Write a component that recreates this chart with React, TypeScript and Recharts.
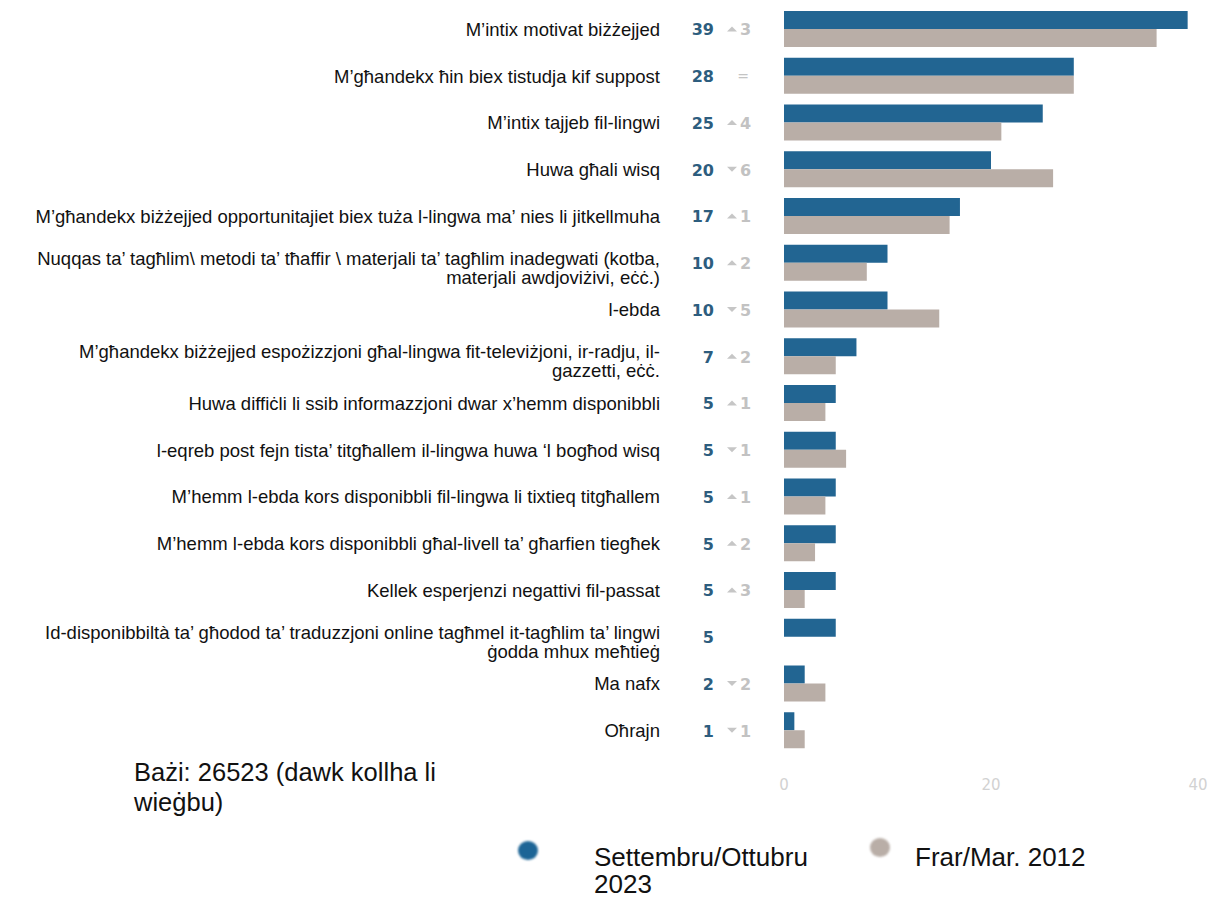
import React from "react";
import { BarChart, Bar, XAxis, YAxis } from "recharts";

// reasons for not learning a language, % of respondents
const categories = [
  "M’intix motivat biżżejjed",
  "M’għandekx ħin biex tistudja kif suppost",
  "M’intix tajjeb fil-lingwi",
  "Huwa għali wisq",
  "M’għandekx biżżejjed opportunitajiet biex tuża l-lingwa ma’ nies li jitkellmuha",
  "Nuqqas ta’ tagħlim\\ metodi ta’ tħaffir \\ materjali ta’ tagħlim inadegwati (kotba,\nmaterjali awdjoviżivi, eċċ.)",
  "l-ebda",
  "M’għandekx biżżejjed espożizzjoni għal-lingwa fit-televiżjoni, ir-radju, il-\ngazzetti, eċċ.",
  "Huwa diffiċli li ssib informazzjoni dwar x’hemm disponibbli",
  "l-eqreb post fejn tista’ titgħallem il-lingwa huwa ‘l bogħod wisq",
  "M’hemm l-ebda kors disponibbli fil-lingwa li tixtieq titgħallem",
  "M’hemm l-ebda kors disponibbli għal-livell ta’ għarfien tiegħek",
  "Kellek esperjenzi negattivi fil-passat",
  "Id-disponibbiltà ta’ għodod ta’ traduzzjoni online tagħmel it-tagħlim ta’ lingwi\nġodda mhux meħtieġ",
  "Ma nafx",
  "Oħrajn",
];

const sepOct2023 = [39, 28, 25, 20, 17, 10, 10, 7, 5, 5, 5, 5, 5, 5, 2, 1];
const febMar2012: (number | null)[] = [36, 28, 21, 26, 16, 8, 15, 5, 4, 6, 4, 3, 2, null, 4, 2];

const xTicks = [0, 20, 40];

const BLUE = "#226592";
const GREY = "#b9aea7";

const data = categories.map((name, i) => ({
  name,
  cur: sepOct2023[i],
  prev: febMar2012[i],
}));

const LABEL_RIGHT = 660;
const VALUE_RIGHT = 714;
const DELTA_X = 727;
const ARIAL = "'Liberation Sans', Arial, sans-serif";

function RowTick(props: any) {
  const { y, payload } = props;
  const i = payload.index;
  const lines = String(categories[i]).split("\n");
  const cur = sepOct2023[i];
  const prev = febMar2012[i];
  const diff = prev == null ? null : cur - prev;
  const firstY = lines.length > 1 ? y - 5 : y;

  return (
    <g>
      <text x={LABEL_RIGHT} y={firstY} textAnchor="end" fill="#111" fontSize={18.5} fontFamily={ARIAL}>
        {lines.map((l, k) => (
          <tspan key={k} x={LABEL_RIGHT} dy={k === 0 ? "0.35em" : 19}>
            {l}
          </tspan>
        ))}
      </text>
      <text
        x={VALUE_RIGHT}
        y={y + 6}
        textAnchor="end"
        fill="#2d5d7e"
        fontSize={16}
        fontWeight="bold"
        fontFamily="'DejaVu Sans', Verdana, sans-serif"
      >
        {cur}
      </text>
      {diff === 0 && (
        <text x={DELTA_X + 16} y={y + 5} textAnchor="middle" fill="#c4c4c4" fontSize={14} fontFamily="'DejaVu Sans', sans-serif">
          =
        </text>
      )}
      {diff != null && diff !== 0 && (
        <g>
          {diff > 0 ? (
            <polygon points={`${DELTA_X},${y + 2} ${DELTA_X + 10},${y + 2} ${DELTA_X + 5},${y - 3}`} fill="#c6c6c6" />
          ) : (
            <polygon points={`${DELTA_X},${y - 3} ${DELTA_X + 10},${y - 3} ${DELTA_X + 5},${y + 2}`} fill="#c6c6c6" />
          )}
          <text
            x={DELTA_X + 13}
            y={y + 6}
            fill="#c2c2c2"
            fontSize={16}
            fontWeight="bold"
            fontFamily="'DejaVu Sans', Verdana, sans-serif"
          >
            {Math.abs(diff)}
          </text>
        </g>
      )}
    </g>
  );
}

function XTick(props: any) {
  const { x, payload } = props;
  return (
    <text x={x} y={785} dy="0.35em" textAnchor="middle" fill="#d2d2d2" fontSize={15} fontFamily="'DejaVu Sans', Verdana, sans-serif">
      {payload.value}
    </text>
  );
}

export default function App() {
  return (
    <div style={{ position: "absolute", left: 0, top: 0, width: 1215, height: 897, background: "#fff" }}>
      <BarChart
        width={1215}
        height={897}
        data={data}
        layout="vertical"
        margin={{ top: 6, right: 17, left: 0, bottom: 103 }}
        barSize={18}
        barGap={0}
      >
        <XAxis type="number" domain={[0, 40]} ticks={xTicks} axisLine={false} tickLine={false} height={40} tick={<XTick />} />
        <YAxis
          type="category"
          dataKey="name"
          width={784}
          axisLine={false}
          tickLine={false}
          interval={0}
          tick={<RowTick />}
        />
        <Bar dataKey="cur" fill={BLUE} isAnimationActive={false} />
        <Bar dataKey="prev" fill={GREY} isAnimationActive={false} />
      </BarChart>

      <div
        style={{
          position: "absolute",
          left: 134,
          top: 757,
          width: 330,
          fontFamily: ARIAL,
          fontSize: 25.5,
          lineHeight: "30px",
          color: "#111",
        }}
      >
        Bażi: 26523 (dawk kollha li wieġbu)
      </div>

      <div
        style={{
          position: "absolute",
          left: 518,
          top: 841,
          width: 20,
          height: 19,
          borderRadius: "50%",
          background: "#1d6596",
          filter: "blur(1px)",
        }}
      />
      <div
        style={{
          position: "absolute",
          left: 594,
          top: 844,
          width: 240,
          fontFamily: ARIAL,
          fontSize: 26,
          lineHeight: "27px",
          color: "#111",
        }}
      >
        Settembru/Ottubru 2023
      </div>
      <div
        style={{
          position: "absolute",
          left: 870,
          top: 838,
          width: 20,
          height: 19,
          borderRadius: "50%",
          background: GREY,
          filter: "blur(1px)",
        }}
      />
      <div
        style={{
          position: "absolute",
          left: 915,
          top: 844,
          fontFamily: ARIAL,
          fontSize: 26,
          lineHeight: "27px",
          color: "#111",
        }}
      >
        Frar/Mar. 2012
      </div>
    </div>
  );
}
